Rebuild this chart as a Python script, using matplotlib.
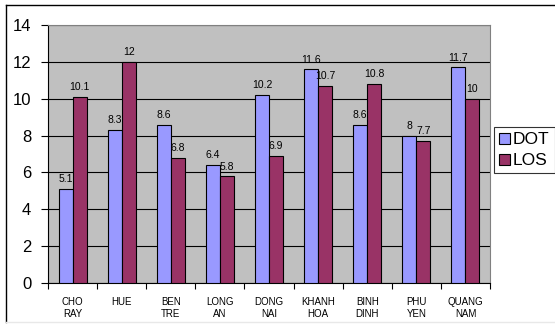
import matplotlib
matplotlib.use("Agg")
import matplotlib.pyplot as plt
import numpy as np
from matplotlib.lines import Line2D

plt.rcParams['font.family'] = ['Liberation Sans', 'DejaVu Sans']

categories = ["CHO\nRAY", "HUE", "BEN\nTRE", "LONG\nAN", "DONG\nNAI", "KHANH\nHOA", "BINH\nDINH", "PHU\nYEN", "QUANG\nNAM"]
dot = [5.1, 8.3, 8.6, 6.4, 10.2, 11.6, 8.6, 8, 11.7]
los = [10.1, 12, 6.8, 5.8, 6.9, 10.7, 10.8, 7.7, 10]
yticks = [0, 2, 4, 6, 8, 10, 12, 14]

W, H = 555, 326
fig = plt.figure(figsize=(W/100, H/100), dpi=100)
fig.patch.set_facecolor('white')

# outer frame (left and top lines)
fig.add_artist(Line2D([6/W, 6/W], [1-5/H, 1-322/H], color='black', lw=1.0, transform=fig.transFigure))
fig.add_artist(Line2D([6/W, 1], [1-5/H, 1-5/H], color='black', lw=1.0, transform=fig.transFigure))
fig.add_artist(Line2D([6/W, 1], [1-322/H, 1-322/H], color='#e8e8e8', lw=1.0, transform=fig.transFigure))

L, R, T, B = 48, 490, 25, 283
ax = fig.add_axes([L/W, 1-B/H, (R-L)/W, (B-T)/H])
ax.set_facecolor('#C0C0C0')

n = len(categories)
x = np.arange(n)
bw = 1/3.5
b1 = ax.bar(x - bw/2, dot, bw, color='#9999FF', edgecolor='black', linewidth=0.8, label='DOT', zorder=3)
b2 = ax.bar(x + bw/2, los, bw, color='#993366', edgecolor='black', linewidth=0.8, label='LOS', zorder=3)

for xi, v in zip(x - bw/2, dot):
    ax.text(xi, v + 0.25, f"{v:g}", ha='center', va='bottom', fontsize=7.5, zorder=4)
for xi, v in zip(x + bw/2, los):
    ax.text(xi, v + 0.25, f"{v:g}", ha='center', va='bottom', fontsize=7.5, zorder=4)

ax.set_xlim(-0.5, n - 0.5)
ax.set_ylim(0, 14)
ax.set_yticks(yticks)
ax.tick_params(axis='y', labelsize=12, direction='out', length=5, width=0.8, pad=7)
ax.yaxis.grid(True, color='black', linewidth=0.8, zorder=1)
ax.set_axisbelow(True)

ax.set_xticks(x)
ax.set_xticklabels(categories, fontsize=7, linespacing=1.3)
ax.tick_params(axis='x', length=0, pad=10)
ax.set_xticks(np.arange(n + 1) - 0.5, minor=True)
ax.tick_params(axis='x', which='minor', direction='out', length=4, width=0.8)

for s in ['top', 'right']:
    ax.spines[s].set_color('#808080')
    ax.spines[s].set_linewidth(0.8)
ax.spines['left'].set_color('black')
ax.spines['bottom'].set_color('black')
ax.spines['left'].set_linewidth(0.8)
ax.spines['bottom'].set_linewidth(0.8)

leg = fig.legend(handles=[b1, b2], labels=['DOT', 'LOS'], loc='upper left',
                 bbox_to_anchor=(494/W, 1-127/H), frameon=True, fancybox=False,
                 edgecolor='black', fontsize=12.5, handlelength=0.6, handleheight=0.6,
                 handletextpad=0.2, borderpad=0.3, labelspacing=0.35, borderaxespad=0)
leg.get_frame().set_linewidth(0.8)

fig.savefig('out.png', dpi=100, facecolor='white')
